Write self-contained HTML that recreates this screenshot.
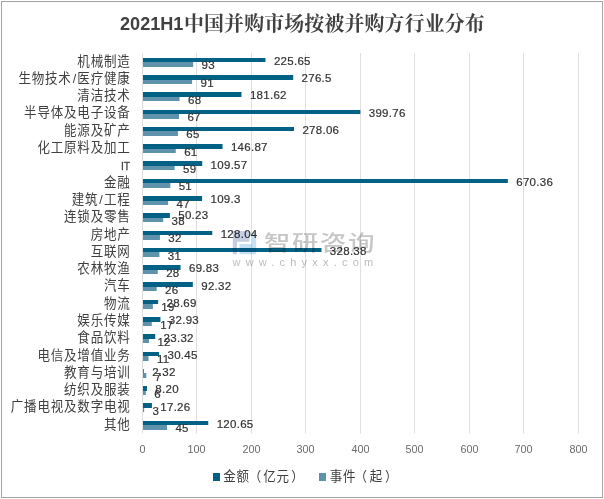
<!DOCTYPE html>
<html lang="zh-CN"><head><meta charset="utf-8"><title>2021H1中国并购市场按被并购方行业分布</title>
<style>html,body{margin:0;padding:0;background:#fff}svg{display:block}.cat{font-family:"Liberation Sans","Noto Sans CJK SC",sans-serif;font-size:13.33px;fill:#404040;text-anchor:end;letter-spacing:0.85px;font-weight:400}.dl{font-family:"Liberation Sans",sans-serif;font-size:11.5px;letter-spacing:0.28px;fill:#333;stroke:#333;stroke-width:0.2px}.ax{font-family:"Liberation Sans",sans-serif;font-size:10.8px;fill:#6b6b6b;text-anchor:middle}.lg{font-family:"Liberation Sans","Noto Sans CJK SC",sans-serif;font-size:13.33px;fill:#404040;letter-spacing:0.85px;font-weight:400}</style></head><body>
<svg width="604" height="499" viewBox="0 0 604 499">
<rect x="0" y="0" width="604" height="499" fill="#fff"/>
<rect x="1.5" y="1.5" width="601" height="496" fill="none" stroke="#a3a3a3" stroke-width="1"/>
<rect x="142" y="53.0" width="1" height="380.4" fill="#dfdfdf"/>
<rect x="196" y="53.0" width="1" height="380.4" fill="#dfdfdf"/>
<rect x="251" y="53.0" width="1" height="380.4" fill="#dfdfdf"/>
<rect x="305" y="53.0" width="1" height="380.4" fill="#dfdfdf"/>
<rect x="360" y="53.0" width="1" height="380.4" fill="#dfdfdf"/>
<rect x="414" y="53.0" width="1" height="380.4" fill="#dfdfdf"/>
<rect x="469" y="53.0" width="1" height="380.4" fill="#dfdfdf"/>
<rect x="523" y="53.0" width="1" height="380.4" fill="#dfdfdf"/>
<rect x="578" y="53.0" width="1" height="380.4" fill="#dfdfdf"/>
<rect x="143" y="58" width="122.48" height="4" fill="#026185"/>
<rect x="143" y="62" width="50.19" height="5" fill="#5f93ab"/>
<rect x="143" y="75" width="150.19" height="5" fill="#026185"/>
<rect x="143" y="80" width="49.09" height="4" fill="#5f93ab"/>
<rect x="143" y="92" width="98.48" height="5" fill="#026185"/>
<rect x="143" y="97" width="36.56" height="4" fill="#5f93ab"/>
<rect x="143" y="110" width="217.37" height="4" fill="#026185"/>
<rect x="143" y="114" width="36.01" height="5" fill="#5f93ab"/>
<rect x="143" y="127" width="151.04" height="4" fill="#026185"/>
<rect x="143" y="131" width="34.93" height="5" fill="#5f93ab"/>
<rect x="143" y="144" width="79.54" height="5" fill="#026185"/>
<rect x="143" y="149" width="32.75" height="4" fill="#5f93ab"/>
<rect x="143" y="161" width="59.22" height="5" fill="#026185"/>
<rect x="143" y="166" width="31.66" height="4" fill="#5f93ab"/>
<rect x="143" y="179" width="364.85" height="4" fill="#026185"/>
<rect x="143" y="183" width="27.30" height="5" fill="#5f93ab"/>
<rect x="143" y="196" width="59.07" height="5" fill="#026185"/>
<rect x="143" y="201" width="25.12" height="4" fill="#5f93ab"/>
<rect x="143" y="213" width="26.88" height="5" fill="#026185"/>
<rect x="143" y="218" width="20.21" height="4" fill="#5f93ab"/>
<rect x="143" y="231" width="69.28" height="4" fill="#026185"/>
<rect x="143" y="235" width="16.94" height="5" fill="#5f93ab"/>
<rect x="143" y="248" width="178.47" height="4" fill="#026185"/>
<rect x="143" y="252" width="16.40" height="5" fill="#5f93ab"/>
<rect x="143" y="265" width="37.56" height="5" fill="#026185"/>
<rect x="143" y="270" width="14.76" height="4" fill="#5f93ab"/>
<rect x="143" y="282" width="49.81" height="5" fill="#026185"/>
<rect x="143" y="287" width="13.67" height="4" fill="#5f93ab"/>
<rect x="143" y="300" width="15.14" height="4" fill="#026185"/>
<rect x="143" y="304" width="9.85" height="5" fill="#5f93ab"/>
<rect x="143" y="317" width="17.45" height="5" fill="#026185"/>
<rect x="143" y="322" width="8.76" height="4" fill="#5f93ab"/>
<rect x="143" y="334" width="12.21" height="5" fill="#026185"/>
<rect x="143" y="339" width="6.04" height="4" fill="#5f93ab"/>
<rect x="143" y="352" width="16.10" height="4" fill="#026185"/>
<rect x="143" y="356" width="5.50" height="5" fill="#5f93ab"/>
<rect x="143" y="369" width="0.76" height="4" fill="#026185"/>
<rect x="143" y="373" width="3.31" height="5" fill="#5f93ab"/>
<rect x="143" y="386" width="3.97" height="5" fill="#026185"/>
<rect x="143" y="391" width="2.77" height="4" fill="#5f93ab"/>
<rect x="143" y="403" width="8.91" height="5" fill="#026185"/>
<rect x="143" y="408" width="1.13" height="4" fill="#5f93ab"/>
<rect x="143" y="421" width="65.25" height="4" fill="#026185"/>
<rect x="143" y="425" width="24.03" height="5" fill="#5f93ab"/>
<text class="cat" transform="translate(130.6,65.60) scale(0.94,1)">机械制造</text>
<text class="cat" transform="translate(130.6,82.89) scale(0.94,1)">生物技术<tspan dx="1.0" letter-spacing="1.3">/</tspan>医疗健康</text>
<text class="cat" transform="translate(130.6,100.18) scale(0.94,1)">清洁技术</text>
<text class="cat" transform="translate(130.6,117.47) scale(0.94,1)">半导体及电子设备</text>
<text class="cat" transform="translate(130.6,134.76) scale(0.94,1)">能源及矿产</text>
<text class="cat" transform="translate(130.6,152.05) scale(0.94,1)">化工原料及加工</text>
<text class="cat" style="font-size:11px;letter-spacing:0;fill:#444;stroke:#444;stroke-width:0.3px;font-weight:400" transform="translate(130.1,169.95) scale(0.94,1)">IT</text>
<text class="cat" transform="translate(130.6,186.64) scale(0.94,1)">金融</text>
<text class="cat" transform="translate(130.6,203.93) scale(0.94,1)">建筑<tspan dx="1.0" letter-spacing="1.3">/</tspan>工程</text>
<text class="cat" transform="translate(130.6,221.22) scale(0.94,1)">连锁及零售</text>
<text class="cat" transform="translate(130.6,238.51) scale(0.94,1)">房地产</text>
<text class="cat" transform="translate(130.6,255.80) scale(0.94,1)">互联网</text>
<text class="cat" transform="translate(130.6,273.09) scale(0.94,1)">农林牧渔</text>
<text class="cat" transform="translate(130.6,290.38) scale(0.94,1)">汽车</text>
<text class="cat" transform="translate(130.6,307.67) scale(0.94,1)">物流</text>
<text class="cat" transform="translate(130.6,324.96) scale(0.94,1)">娱乐传媒</text>
<text class="cat" transform="translate(130.6,342.25) scale(0.94,1)">食品饮料</text>
<text class="cat" transform="translate(130.6,359.55) scale(0.94,1)">电信及增值业务</text>
<text class="cat" transform="translate(130.6,376.84) scale(0.94,1)">教育与培训</text>
<text class="cat" transform="translate(130.6,394.13) scale(0.94,1)">纺织及服装</text>
<text class="cat" transform="translate(130.6,411.42) scale(0.94,1)">广播电视及数字电视</text>
<text class="cat" transform="translate(130.6,428.71) scale(0.94,1)">其他</text>
<text class="dl" x="273.88" y="64.90">225.65</text>
<text class="dl" x="201.59" y="69.30">93</text>
<text class="dl" x="301.59" y="82.19">276.5</text>
<text class="dl" x="200.50" y="86.59">91</text>
<text class="dl" x="249.88" y="99.48">181.62</text>
<text class="dl" x="187.96" y="103.88">68</text>
<text class="dl" x="368.77" y="116.77">399.76</text>
<text class="dl" x="187.41" y="121.17">67</text>
<text class="dl" x="302.44" y="134.06">278.06</text>
<text class="dl" x="186.33" y="138.46">65</text>
<text class="dl" x="230.94" y="151.35">146.87</text>
<text class="dl" x="184.15" y="155.75">61</text>
<text class="dl" x="210.62" y="168.65">109.57</text>
<text class="dl" x="183.06" y="173.05">59</text>
<text class="dl" x="516.25" y="185.94">670.36</text>
<text class="dl" x="178.70" y="190.34">51</text>
<text class="dl" x="210.47" y="203.23">109.3</text>
<text class="dl" x="176.52" y="207.63">47</text>
<text class="dl" x="178.28" y="219.42">50.23</text>
<text class="dl" x="171.61" y="224.92">38</text>
<text class="dl" x="220.68" y="237.81">128.04</text>
<text class="dl" x="168.34" y="242.21">32</text>
<text class="dl" x="329.87" y="255.10">328.38</text>
<text class="dl" x="167.80" y="259.50">31</text>
<text class="dl" x="188.96" y="272.39">69.83</text>
<text class="dl" x="166.16" y="276.79">28</text>
<text class="dl" x="201.21" y="289.68">92.32</text>
<text class="dl" x="165.07" y="294.08">26</text>
<text class="dl" x="166.54" y="306.97">28.69</text>
<text class="dl" x="161.25" y="311.37">19</text>
<text class="dl" x="168.85" y="324.26">32.93</text>
<text class="dl" x="160.16" y="328.66">17</text>
<text class="dl" x="163.61" y="341.55">23.32</text>
<text class="dl" x="157.44" y="345.95">12</text>
<text class="dl" x="167.50" y="358.85">30.45</text>
<text class="dl" x="156.90" y="363.25">11</text>
<text class="dl" x="152.16" y="376.14">2.32</text>
<text class="dl" x="154.72" y="380.54">7</text>
<text class="dl" x="155.37" y="393.43">8.20</text>
<text class="dl" x="154.17" y="397.83">6</text>
<text class="dl" x="160.31" y="410.72">17.26</text>
<text class="dl" x="152.53" y="415.12">3</text>
<text class="dl" x="216.65" y="428.01">120.65</text>
<text class="dl" x="175.43" y="432.41">45</text>
<text class="ax" x="142.50" y="453.3">0</text>
<text class="ax" x="196.50" y="453.3">100</text>
<text class="ax" x="251.50" y="453.3">200</text>
<text class="ax" x="305.50" y="453.3">300</text>
<text class="ax" x="360.50" y="453.3">400</text>
<text class="ax" x="414.50" y="453.3">500</text>
<text class="ax" x="469.50" y="453.3">600</text>
<text class="ax" x="523.50" y="453.3">700</text>
<text class="ax" x="578.50" y="453.3">800</text>
<text x="120" y="30.4" style="font-weight:700;fill:#404040"><tspan style="font-family:'Liberation Sans',sans-serif;font-size:18.1px">2021H1</tspan><tspan dx="0.6" dy="0.9" style="font-family:'Liberation Serif','Noto Serif CJK SC',serif;font-size:19.9px;letter-spacing:0.17px">中国并购市场按被并购方行业分布</tspan></text>
<rect x="213" y="473" width="7" height="8" fill="#026185"/>
<text class="lg" transform="translate(223.2,480.9) scale(0.94,1)">金额<tspan dx="-1.2">（</tspan><tspan dx="1.2">亿元</tspan><tspan dx="1.6">）</tspan></text>
<rect x="319" y="473" width="7" height="8" fill="#5f93ab"/>
<text class="lg" transform="translate(329.8,480.9) scale(0.94,1)">事件<tspan dx="-2.1">（</tspan><tspan dx="2.1">起</tspan><tspan dx="2.1">）</tspan></text>
<g style="mix-blend-mode:multiply">
<path d="M232.8 231H249.5V241.7H237V254.2H232.8Z" fill="#c6cee4"/>
<path d="M251.7 232.4H256.2V254.2H239.5V244H251.7Z" fill="#c7e1f4"/>
<text transform="translate(264.0,250.0) scale(1.25,1)" style="font-family:'Liberation Sans','Noto Sans CJK SC',sans-serif;font-size:21px;font-weight:500;letter-spacing:1.45px;fill:#c6c6c6">智研咨询</text>
<text x="232.5" y="266" style="font-family:'Liberation Sans',sans-serif;font-size:11px;letter-spacing:5.2px;fill:#bcbcbc">www.chyxx.com</text>
</g>
</svg></body></html>
